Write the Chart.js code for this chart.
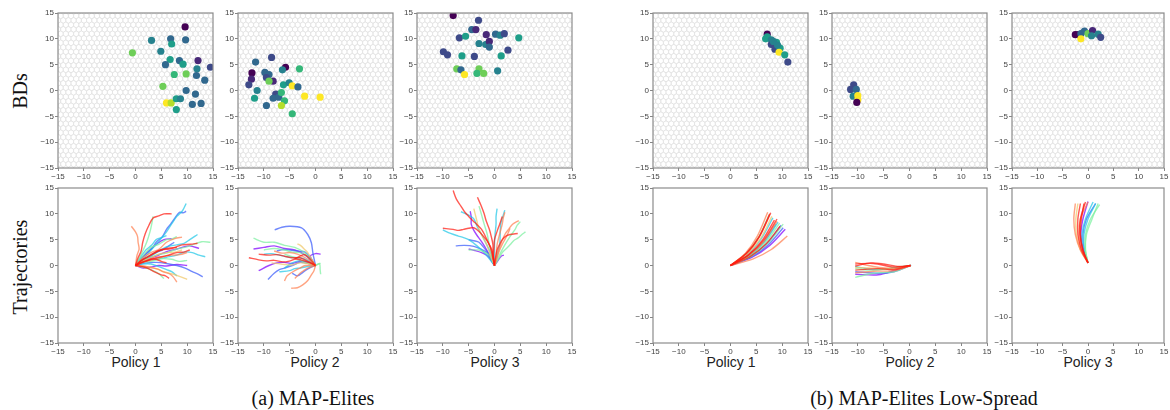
<!DOCTYPE html>
<html>
<head>
<meta charset="utf-8">
<script src="https://cdn.jsdelivr.net/npm/chart.js@4.4.1/dist/chart.umd.min.js"></script>
<style>
  body { margin: 0; width: 1170px; height: 410px; position: relative; overflow: hidden; background: #fff;
         font-family: "Liberation Sans", Arial, sans-serif; }
  .panel { position: absolute; }
  .rowlabel { position: absolute; font-family: "Liberation Serif", "Times New Roman", serif; font-size: 20px; color: #111;
              transform: translate(-50%, -50%) rotate(-90deg); white-space: nowrap; }
  .policy { position: absolute; font-size: 14px; color: #222; transform: translate(-50%, -50%); white-space: nowrap; }
  .caption { position: absolute; font-family: "Liberation Serif", "Times New Roman", serif; font-size: 20px; color: #111;
             transform: translate(-50%, -50%); white-space: nowrap; }
</style>
</head>
<body>

<div class="rowlabel" style="left:20px;top:91px">BDs</div>
<div class="rowlabel" style="left:20px;top:267px">Trajectories</div>

<div class="policy" style="left:136px;top:362px">Policy 1</div>
<div class="policy" style="left:315px;top:362px">Policy 2</div>
<div class="policy" style="left:495px;top:362px">Policy 3</div>
<div class="policy" style="left:731px;top:362px">Policy 1</div>
<div class="policy" style="left:910px;top:362px">Policy 2</div>
<div class="policy" style="left:1088px;top:362px">Policy 3</div>

<div class="caption" style="left:313px;top:398px">(a) MAP-Elites</div>
<div class="caption" style="left:924px;top:398px">(b) MAP-Elites Low-Spread</div>

<script>
// axis ticks shared by every panel
const tickValues = [-15, -10, -5, 0, 5, 10, 15];

// viridis shades for the archive cells (index = fitness level)
const viridis = ['#440154', '#482878', '#3e4a89', '#31688e', '#26828e',
                 '#1f9e89', '#35b779', '#6ece58', '#b5de2b', '#fde725'];

// rainbow shades for trajectories
const rainbow = { pu: '128,0,255', bl: '58,92,251', cy: '34,200,232', gr: '124,240,160',
                  ye: '240,200,104', or: '255,128,80', re: '255,26,16' };
const drawRank = { re: 0, or: 1, ye: 2, gr: 3, cy: 4, bl: 5, pu: 6 };

// BD archive cells: [x, y, fitness level]
const bdMapP1 = [[9.6,12.3,0],[3.1,9.7,4],[6.8,10.0,3],[7.0,9.0,5],[9.7,9.8,3],[-0.6,7.3,7],[4.9,7.6,4],
  [6.7,6.0,5],[5.8,5.0,3],[8.5,5.8,3],[9.2,5.1,5],[12.1,5.8,1],[14.5,4.5,2],[11.9,4.2,4],[7.5,3.1,6],
  [9.8,3.2,7],[11.8,2.9,3],[13.4,2.0,3],[5.3,0.8,7],[9.8,0.0,3],[11.6,-0.7,3],[6.0,-2.4,9],[6.9,-2.4,8],
  [7.9,-1.6,5],[8.7,-1.6,4],[7.9,-3.7,5],[11.0,-2.7,3],[12.7,-2.5,3]];
const bdMapP2 = [[-11.6,5.5,3],[-8.5,6.4,2],[-12.3,3.4,0],[-12.4,2.2,1],[-12.9,1.1,2],[-9.8,3.5,3],[-9.0,3.1,3],
  [-9.5,2.5,2],[-8.2,1.8,1],[-9.0,1.8,7],[-5.8,4.5,0],[-6.4,4.0,4],[-3.1,4.2,6],[-11.3,0.0,4],[-11.8,-1.5,5],
  [-7.7,-0.7,2],[-8.2,-1.5,3],[-7.1,-1.3,3],[-6.2,1.1,5],[-5.1,1.5,4],[-6.6,-0.4,6],[-4.5,0.9,9],[-3.4,0.7,3],
  [-2.1,-1.1,9],[0.9,-1.3,9],[-6.0,-2.0,6],[-6.6,-2.9,8],[-9.5,-2.9,3],[-4.5,-4.5,6]];
const bdMapP3 = [[-8.0,14.5,0],[-3.1,13.6,2],[-4.4,11.8,3],[-3.6,11.8,1],[-6.8,10.2,2],[-5.6,10.5,5],[-1.6,10.8,1],
  [0.2,10.9,3],[1.1,10.7,4],[1.9,11.0,2],[4.7,10.2,5],[-3.0,9.1,4],[-1.7,8.9,4],[-1.0,9.5,1],[-1.0,8.4,3],
  [-9.9,7.5,2],[-9.1,6.9,2],[-6.3,6.7,5],[-3.9,6.6,2],[1.3,6.7,5],[2.6,7.8,2],[-7.3,4.2,7],[-6.5,4.0,3],
  [-5.8,3.1,9],[-3.0,4.2,7],[-3.4,3.3,6],[-2.1,3.3,7],[0.6,3.8,4]];
const bdLowP1 = [[7.1,10.9,0],[7.1,10.4,5],[6.8,10.0,5],[7.9,9.8,4],[8.9,9.3,5],[7.9,8.9,2],[8.6,8.0,2],
  [9.6,8.2,5],[9.1,8.8,4],[9.4,7.4,9],[10.5,6.9,5],[11.1,5.5,2],[8.3,9.5,4]];
const bdLowP2 = [[-10.8,1.1,2],[-11.4,0.2,2],[-10.3,0.2,3],[-10.9,-1.1,4],[-10.0,-1.0,9],[-10.0,-1.8,9],[-10.2,-2.3,0]];
const bdLowP3 = [[-2.5,10.8,0],[-1.9,10.8,0],[-1.4,11.0,3],[-0.7,11.5,3],[-1.4,10.0,9],[0.0,11.0,7],
  [0.9,11.6,1],[0.7,10.6,4],[2.0,10.9,4],[2.5,10.3,2]];

// trajectories: [colour, [[x, y], ...]]
const trajMapP1 = [
  ['re', [[0,0],[0.5,1.5],[1.1,2.8],[1.4,4.5],[1.9,6.2],[2.6,7.8],[3.4,9.2],[4.5,9.6],[5.5,10],[7,10]]],
  ['bl', [[0,0],[1.2,1.4],[2,2.2],[3.2,3.3],[4,4.5],[5.2,5.6],[6,7],[6.8,8],[7.5,9],[8.5,10.3],[9.2,10.2],[9.8,10.5]]],
  ['cy', [[0,0],[1.5,1.2],[3,3],[4.2,4.3],[6,6.5],[7.1,8.2],[8,9.5],[9.1,10.6],[9.8,12]]],
  ['or', [[0,0],[0.3,2],[0.7,3.2],[0.5,4.5],[0.4,5.6],[0,6.5],[-0.8,7.6]]],
  ['gr', [[0,0],[1.5,3],[2.2,4.6],[2.8,6.5],[3.1,7.8],[3.4,9.5]]],
  ['re', [[0,0],[1.5,1.2],[3,2],[4.5,2.9],[6,3.3],[7.6,3.5],[9,4],[10.6,4.1],[12,4.3]]],
  ['or', [[0,0],[1.6,1.6],[3,2.5],[4.6,3.2],[6,4.5],[7.6,5.2],[9,5.5]]],
  ['gr', [[0,0],[2,1.2],[4,2],[6,2.4],[8,3.2],[9.6,3.5],[11,4],[12.8,4.6],[14.5,4.5]]],
  ['cy', [[0,0],[2,1.4],[4,2.5],[6,3.6],[8,4],[9.4,4.3],[10.5,5],[12,6]]],
  ['pu', [[0,0],[2,1.2],[4,1.8],[6,2.7],[8,3.2],[9.3,3.6],[10.5,3.8],[12.3,3.3]]],
  ['cy', [[0,0],[2,0.9],[4,1.2],[6,1.6],[8,2],[9.5,2.6],[11,2.5],[12.3,2],[13.5,1.7]]],
  ['bl', [[0,0],[2,0.5],[4,0.6],[6,0.4],[8,0],[9.6,-0.5],[11,-1.2],[12,-1.6],[13,-2.2]]],
  ['pu', [[0,0],[1.5,-0.5],[3,-0.3],[4.5,0],[6,-0.1],[8,0.2],[10,0]]],
  ['or', [[0,0],[1.5,-0.1],[3,-0.4],[4.3,-0.7],[5.5,-1.3],[6.6,-1.6],[7.3,-2.2],[8,-3.2]]],
  ['re', [[0,0],[1.2,-0.2],[2.5,-0.6],[3.8,-1.3],[5,-1.8],[5.8,-2],[6.5,-2.5]]],
  ['ye', [[0,0],[2,-0.2],[4,-0.6],[5.5,-1.2],[7,-1.6],[8.5,-2.1],[10,-2.7]]],
  ['gr', [[0,0],[1.3,-0.3],[2.5,-0.6],[3.6,-1.1],[4.5,-1.6],[5.5,-2.5]]],
  ['cy', [[0,0],[1.5,0.3],[3,0.3],[4.5,-0.2],[6,-0.8],[7,-1.2],[8,-2]]],
  ['bl', [[0,0],[2,1.2],[4,2.5],[5.2,3],[6,3.5],[7.5,4.5]]],
  ['or', [[0,0],[1.5,0.8],[3,1],[5,1.6],[7,2],[8.6,2.1],[10,2.5]]],
  ['gr', [[0,0],[1.5,0.6],[3,0.8],[5,1.3],[7,1.2],[8.5,0.8],[10,1]]],
  ['ye', [[0,0],[1.5,0.9],[3,1.5],[4.5,2.2],[6,2.5],[7.6,2.6],[9,3]]],
  ['cy', [[0,0],[1,1.6],[2,3],[3.1,3.9],[4,5],[5,5.4],[6,5.8]]],
  ['gr', [[0,0],[1.5,1.9],[3,3.5],[4.5,4.1],[6,5],[7,5.1],[8,5.6]]],
  ['re', [[0,0],[2,0.9],[4,1.5],[6,1.9],[8,2.5],[9.3,2.6],[10.5,3]]],
  ['pu', [[0,0],[1.5,1.8],[3,3.2],[4.3,4.3],[5.5,5],[7,5.2]]],
  ['re', [[0,0],[1,0.5],[2,0.8],[3,1.2],[4,1.2],[5,0.8],[6,0.5]]],
  ['re', [[0,0],[1,0.9],[2,1.5],[3.5,2.4],[5,3],[6.5,3.2],[8,3.5]]]
];
const trajMapP2 = [
  ['bl', [[0,0],[-0.5,2.4],[-0.8,4.4],[-1.5,6],[-2.7,7.3],[-5,7.6],[-6.5,7.4],[-7.9,6.9]]],
  ['re', [[0,0],[-1,1.2],[-2.1,2.1],[-3,1.8],[-4.4,1.1],[-5.3,0.8],[-6.3,0.7],[-8,1],[-9.5,0.9],[-11,1.1],[-12.9,1.5]]],
  ['re', [[0,0],[-1.5,0.8],[-3,1.5],[-4.5,1.5],[-6,1.8],[-7.5,2.1],[-9,2],[-11,2.2]]],
  ['or', [[0,0],[-0.3,-1],[-0.8,-1.8],[-1.5,-2.9],[-2.4,-3.7],[-3.5,-4.3],[-4.7,-4.4]]],
  ['pu', [[0,0],[-2,2],[-4,3],[-6,3.3],[-8,3.8],[-10,3.5],[-12,3.2]]],
  ['pu', [[0,0],[-1.5,0.6],[-3,0.8],[-4.5,0.4],[-6,0.6],[-7.5,0.5],[-9,0],[-11,-1]]],
  ['gr', [[0,0],[-2,2.4],[-4,3.5],[-6,3.9],[-8,4.5],[-10,4.5],[-12,5.3]]],
  ['bl', [[0,0],[-1.5,0.4],[-3,0.6],[-4.5,0],[-6,-0.5],[-7,-0.8],[-8,-1.5],[-9.2,-2.7]]],
  ['or', [[0,0],[-2,0],[-3,-0.5],[-4,-1],[-5.5,-2],[-6,-3]]],
  ['gr', [[0,0],[0.8,0.3],[0.9,-0.8],[1,-1.7]]],
  ['bl', [[0,0],[-1,1.5],[-2,2.6],[-3.5,2.8],[-5,3],[-6.3,3.1],[-7.5,2.8]]],
  ['pu', [[0,0],[-1,1.8],[0,2.3],[1,2.2]]],
  ['cy', [[0,0],[-1.5,1],[-3,1.5],[-5,1.6],[-7,2],[-8.5,2.3],[-10,2.2]]],
  ['cy', [[0,0],[-1.5,-0.2],[-3,-0.5],[-4,-0.6],[-5,-1],[-7,-1.2]]],
  ['ye', [[0,0],[-0.8,1.4],[-1.5,2.5],[-2.2,3.2],[-2.8,3.8],[-3.5,4.2]]],
  ['gr', [[0,0],[-1.5,1.7],[-3,2.5],[-4.5,2.6],[-6,3],[-8,3.3],[-10,3]]],
  ['or', [[0,0],[-1,0.9],[-2,1.5],[-3.5,2.2],[-5,2.5],[-6.5,2.4],[-8,2.8]]],
  ['gr', [[0,0],[-1,0.3],[-2,0.5],[-3,1.1],[-4,1.5],[-6,2.2]]],
  ['ye', [[0,0],[-1.5,0.4],[-3,0.5],[-4.5,0.1],[-6,0.2],[-8.5,0.5]]],
  ['cy', [[0,0],[-1,0.5],[-2,0.8],[-3.3,0.9],[-4.5,0.5],[-6,-0.5]]],
  ['re', [[0,0],[-1,0.5],[-2.5,1],[-4,1.3]]],
  ['gr', [[0,0],[0.5,0.3],[1,0.4]]],
  ['or', [[0,0],[-1.5,-0.5],[-2.3,-1],[-3,-1.5],[-4,-2.5]]],
  ['bl', [[0,0],[-1,-0.4],[-2,-1],[-3.5,-2],[-4.5,-1.5]]]
];
const trajMapP3 = [
  ['re', [[0,0],[-0.4,1.8],[-0.8,3.5],[-1.6,5.3],[-2.5,7],[-3.8,8.3],[-5,9.5],[-5.8,10.4],[-6.5,11.5],[-7.4,12.9],[-8,14.5]]],
  ['re', [[0,0],[-0.5,3],[-1.2,4.4],[-2,5.5],[-3,6.6],[-4,7.3],[-5,7.2],[-6,7],[-7,6.8],[-8,7],[-10,7.2]]],
  ['re', [[0,0],[-0.3,2],[-0.3,4],[-0.6,5.5],[-1,7],[-1.6,8.6],[-2,10],[-2.6,11.6],[-3.3,13.2]]],
  ['re', [[0,0],[0.2,1.5],[0.5,3],[1,4.1],[1.5,5],[2.2,5.7],[3,6],[4.5,6.2]]],
  ['or', [[0,0],[0.4,1.5],[0.8,3],[1.4,4.6],[2,6],[2.8,7.1],[3.5,8],[4.7,8.7]]],
  ['gr', [[0,0],[0.8,1.3],[1.5,2.5],[2.2,3.2],[3,4],[3.7,4.8],[4.5,5.3],[5.3,6],[6,6.5]]],
  ['cy', [[0,0],[-0.5,1.5],[-1,3],[-1.8,4.6],[-2.5,6],[-3.3,7.4],[-4,9],[-5.3,9.9],[-6.5,10.4]]],
  ['cy', [[0,0],[-1,1.3],[-2,2.5],[-3.5,3.9],[-5,5],[-6,5.4],[-7,5.7],[-8.5,6.2],[-10,6.9]]],
  ['bl', [[0,0],[-0.8,1.4],[-1.5,2.5],[-2.7,3.2],[-4,3.7],[-5.8,3.9],[-7.5,3.8]]],
  ['pu', [[0,0],[-1,1.5],[-1.7,2.1],[-2.5,2.5],[-3.8,2.9],[-5,3.2]]],
  ['pu', [[0,0],[0.7,1],[1.3,1.8],[1.8,2]]],
  ['gr', [[0,0],[-0.5,2],[-1,4],[-1.4,6],[-2,8],[-2.5,9.8],[-3,11.5]]],
  ['cy', [[0,0],[0,2],[0,4],[0.1,6],[0.3,8],[0.3,9.5],[0.5,11]]],
  ['or', [[0,0],[0.3,2],[0.5,4],[1,6.1],[1.5,8],[1.7,9.2],[2,10.3]]],
  ['gr', [[0,0],[1,2.1],[2,4],[3,5.6],[4,7],[4.4,7.8],[5,8.5]]],
  ['pu', [[0,0],[-0.7,1.5],[-1.5,3],[-2.5,4.6],[-3.5,6],[-4.1,7],[-4.5,8],[-4.5,9.4],[-4.7,10.5]]],
  ['bl', [[0,0],[-0.5,1],[-1,2],[-2,3.4],[-3,4.5],[-4,4.8],[-5,5]]],
  ['or', [[0,0],[0.5,1.5],[1,3],[1.5,4.1],[2,5],[2.6,6.2],[3,7.2]]],
  ['gr', [[0,0],[-0.5,1],[-1,2],[-2,2.6],[-3,3],[-5,3]]],
  ['re', [[0,0],[-0.2,2],[-0.1,3.5],[0,5],[0.5,6.6],[1,8],[1.5,9.5]]],
  ['ye', [[0,0],[-0.8,2],[-1.5,4],[-2.3,5.6],[-3,7],[-3.5,9],[-4,11]]],
  ['cy', [[0,0],[0.5,2],[1,4],[1.1,6],[1.2,8],[1.6,9.4],[2,10.7]]]
];
const trajLowP1 = [
  ['or', [[0,0],[2.9,2.4],[5.2,5.7],[7.2,10.3]]],
  ['re', [[0,0],[3.1,2.3],[5.6,5.6],[7.8,10.2]]],
  ['gr', [[0,0],[3.0,2.3],[5.4,5.4],[7.5,9.8]]],
  ['cy', [[0,0],[3.3,2.1],[5.9,5.1],[8.2,9.2]]],
  ['re', [[0,0],[3.4,2.0],[6.1,4.8],[8.5,8.8]]],
  ['or', [[0,0],[3.6,2.0],[6.5,4.7],[9.0,8.6]]],
  ['gr', [[0,0],[3.8,1.9],[6.8,4.5],[9.5,8.2]]],
  ['cy', [[0,0],[3.5,1.8],[6.3,4.4],[8.8,8.0]]],
  ['bl', [[0,0],[3.9,1.8],[7.1,4.3],[9.8,7.8]]],
  ['re', [[0,0],[3.8,1.7],[6.9,4.2],[9.6,7.6]]],
  ['pu', [[0,0],[4.2,1.6],[7.6,3.9],[10.6,7.0]]],
  ['or', [[0,0],[4.4,1.3],[7.9,3.1],[11.0,5.7]]],
  ['re', [[0,0],[3.6,2.1],[6.5,5.0],[9.0,9.0]]],
  ['ye', [[0,0],[3.2,2.2],[5.8,5.2],[8.0,9.5]]],
  ['cy', [[0,0],[3.7,1.9],[6.6,4.6],[9.2,8.4]]],
  ['bl', [[0,0],[4.1,1.7],[7.3,4.0],[10.2,7.3]]],
  ['gr', [[0,0],[4.1,1.8],[7.3,4.4],[10.2,8.0]]],
  ['re', [[0,0],[3.0,2.3],[5.5,5.5],[7.6,10.0]]]
];
const trajLowP2 = [
  ['re', [[0.2,0],[-3,-0.3],[-7,0.4],[-10.5,0.3]]],
  ['re', [[0.2,0],[-3,-0.8],[-6,-0.6],[-10.5,-0.9]]],
  ['or', [[0.2,0],[-3,-0.6],[-7,-0.2],[-10.5,0.6]]],
  ['gr', [[0.2,0],[-3,-1.2],[-7,-1.5],[-10.5,-2.3]]],
  ['pu', [[0.2,0],[-3,-1],[-6,-1.8],[-10.5,-1.7]]],
  ['bl', [[0.2,0],[-3,-1.2],[-6,-1.5],[-10.5,-1.2]]],
  ['cy', [[0.2,0],[-3,-0.5],[-7,-0.8],[-10.5,-0.2]]],
  ['re', [[0.2,0],[-2,-0.2],[-5,0.3],[-7.5,0.5],[-10.5,-0.1]]],
  ['or', [[0.2,0],[-3,-1],[-7,-1.1],[-10.5,-1.4]]],
  ['gr', [[0.2,0],[-3,-0.4],[-7,-0.9],[-10.5,-0.6]]],
  ['ye', [[0.2,0],[-3,-0.7],[-7,-0.5],[-10.5,-0.4]]],
  ['cy', [[0,-0.2],[0.3,0.1]]]
];
const trajLowP3 = [
  ['re', [[0,0.5],[-1.3,3],[-2,6],[-2,9],[-1.5,12]]],
  ['re', [[0,0.5],[-1,3],[-1.5,6],[-1.3,9],[-0.8,12]]],
  ['or', [[0,0.5],[-1.5,3],[-2.5,6],[-2.8,9],[-2.5,12]]],
  ['gr', [[0,0.5],[-0.5,3],[-0.5,6],[0.5,9],[2.3,11.8]]],
  ['cy', [[0,0.5],[-0.7,3],[-0.8,6],[0,9],[1.5,12]]],
  ['bl', [[0,0.5],[-0.8,3],[-1,6],[-0.3,9],[1.5,12]]],
  ['or', [[0,0.5],[-1.2,3],[-1.8,6],[-1.5,9],[0,12.3]]],
  ['re', [[0,0.5],[-1,3],[-1.6,6],[-1.5,9],[-0.5,12.3]]],
  ['pu', [[0,0.5],[-1,3],[-1.4,6],[-1,9],[0,12.4]]],
  ['gr', [[0,0.5],[-0.5,3],[-0.3,6],[0.8,9],[2,12]]],
  ['ye', [[0,0.5],[-1.5,3],[-2.3,6],[-2.4,9],[-2,12]]],
  ['cy', [[0,0.5],[-1,3],[-1.2,6],[-0.5,9],[1,12.3]]]
];

// grey honeycomb behind the archive panels
const cvtTexture = {
  id: 'cvtTexture',
  beforeDatasetsDraw(chart) {
    const { ctx, chartArea: a, scales: { x, y } } = chart;
    const R = 0.58, w = Math.sqrt(3) * R;
    ctx.save();
    ctx.beginPath();
    ctx.rect(a.left, a.top, a.width, a.height);
    ctx.clip();
    ctx.beginPath();
    let row = 0;
    for (let cy = -16; cy <= 16; cy += 1.5 * R, row++) {
      const off = (row % 2) * w / 2;
      for (let cx = -16 + off; cx <= 16; cx += w) {
        for (let k = 0; k < 6; k++) {
          const ang = Math.PI / 6 + k * Math.PI / 3;
          const px = x.getPixelForValue(cx + R * Math.cos(ang));
          const py = y.getPixelForValue(cy + R * Math.sin(ang));
          if (k) ctx.lineTo(px, py); else ctx.moveTo(px, py);
        }
        ctx.closePath();
      }
    }
    ctx.strokeStyle = '#e3e3e3';
    ctx.lineWidth = 0.7;
    ctx.stroke();
    ctx.restore();
  }
};

// box around the plot area
const frame = {
  id: 'frame',
  afterDraw(chart) {
    const { ctx, chartArea: a } = chart;
    ctx.save();
    ctx.strokeStyle = '#8c8c8c';
    ctx.lineWidth = 1.2;
    ctx.strokeRect(a.left, a.top, a.width, a.height);
    ctx.restore();
  }
};

function axis(pos) {
  return {
    type: 'linear', position: pos, min: -15, max: 15,
    afterBuildTicks: s => { s.ticks = tickValues.map(v => ({ value: v })); },
    afterFit: s => {
      if (pos === 'bottom') s.height = 18; else s.width = 24;
      s.paddingLeft = s.paddingRight = s.paddingTop = s.paddingBottom = 0;
    },
    grid: { drawOnChartArea: false, drawTicks: true, tickLength: 3, color: '#666', lineWidth: 0.8 },
    border: { display: false },
    ticks: {
      autoSkip: false, maxRotation: 0, padding: 1, color: '#444',
      font: { family: 'Liberation Sans', size: 8 },
      callback: v => v < 0 ? '\u2212' + Math.abs(v) : String(v)
    }
  };
}

function makePanel(left, top, width, datasets, textured) {
  const div = document.createElement('div');
  div.className = 'panel';
  div.style.left = (left - 24) + 'px';
  div.style.top = (top - 6) + 'px';
  const canvas = document.createElement('canvas');
  const w = 24 + width + 8, h = 6 + 155 + 18;
  canvas.width = w; canvas.height = h;
  canvas.style.width = w + 'px'; canvas.style.height = h + 'px';
  div.appendChild(canvas);
  document.body.appendChild(div);
  new Chart(canvas.getContext('2d'), {
    type: 'scatter',
    data: { datasets },
    options: {
      responsive: false, animation: false, events: [],
      layout: { padding: { left: 0, top: 6, right: 8, bottom: 0 } },
      plugins: { legend: { display: false }, tooltip: { enabled: false } },
      scales: { x: axis('bottom'), y: axis('left') }
    },
    plugins: textured ? [cvtTexture, frame] : [frame]
  });
}

function bdDataset(cells) {
  return [{
    data: cells.map(c => ({ x: c[0], y: c[1] })),
    pointRadius: 3.6,
    pointHoverRadius: 3.6,
    pointBorderWidth: 0,
    pointBackgroundColor: cells.map(c => viridis[c[2]])
  }];
}

function trajDatasets(paths) {
  return paths.map(([col, pts]) => ({
    data: pts.map(p => ({ x: p[0], y: p[1] })),
    showLine: true,
    tension: 0.3,
    pointRadius: 0,
    borderWidth: 1.4,
    borderColor: 'rgba(' + rainbow[col] + ',0.72)',
    order: drawRank[col]
  }));
}

// column positions of the plot areas
const colLeft = [58, 238, 417, 653, 832, 1012];
const colWidth = [155, 155, 155, 155, 155, 152];
const topRow = 13, bottomRow = 188;

const bdSets = [bdMapP1, bdMapP2, bdMapP3, bdLowP1, bdLowP2, bdLowP3];
const trajSets = [trajMapP1, trajMapP2, trajMapP3, trajLowP1, trajLowP2, trajLowP3];

bdSets.forEach((cells, i) => makePanel(colLeft[i], topRow, colWidth[i], bdDataset(cells), true));
trajSets.forEach((paths, i) => makePanel(colLeft[i], bottomRow, colWidth[i], trajDatasets(paths), false));
</script>
</body>
</html>
